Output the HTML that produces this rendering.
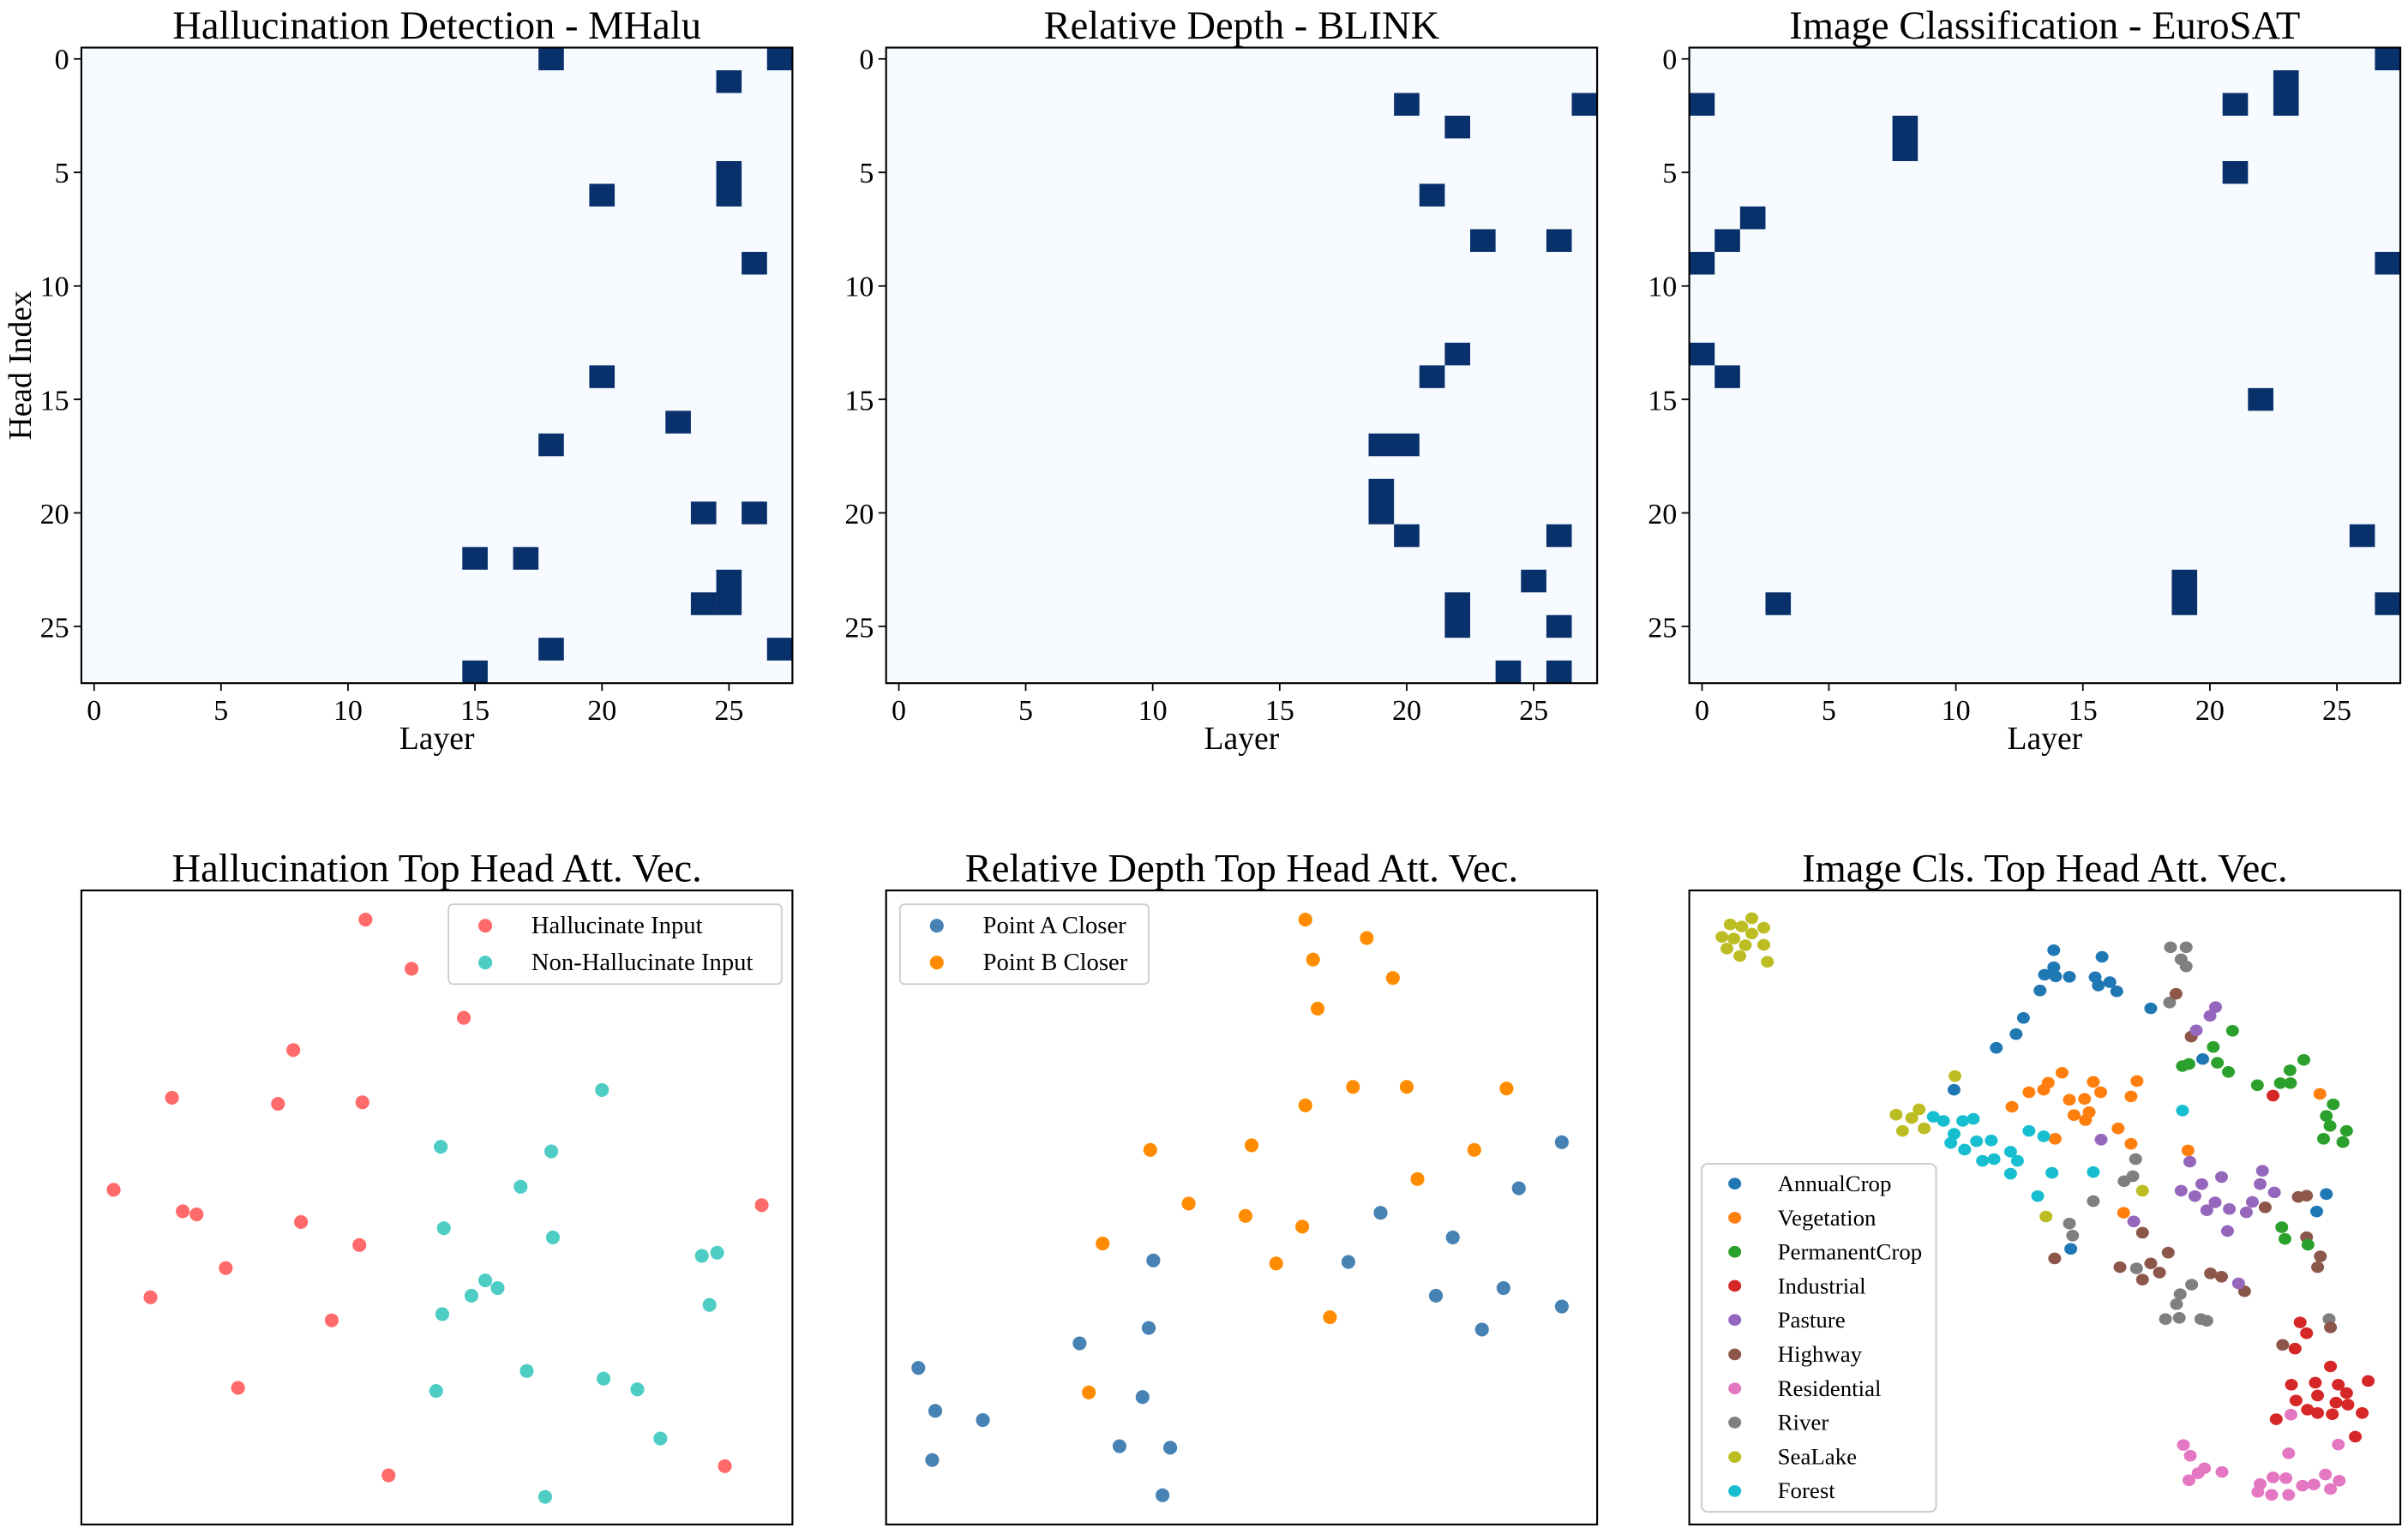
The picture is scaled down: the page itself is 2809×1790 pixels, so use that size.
<!DOCTYPE html>
<html><head><meta charset="utf-8"><style>
html,body{margin:0;padding:0;background:#fff;}
svg{display:block;font-family:"Liberation Serif",serif;}
</style></head><body>
<svg xmlns="http://www.w3.org/2000/svg" width="2809" height="1790" viewBox="0 0 1568 999.2" preserveAspectRatio="none">
<rect width="1568" height="1000" fill="#fff"/>
<rect x="53" y="31" width="463" height="414" fill="#f7fbff"/>
<g transform="translate(53,31) scale(16.536,14.786)" fill="#08306b">
<rect x="18" y="0" width="1" height="1"/><rect x="27" y="0" width="1" height="1"/><rect x="25" y="1" width="1" height="1"/><rect x="25" y="5" width="1" height="2"/><rect x="20" y="6" width="1" height="1"/><rect x="26" y="9" width="1" height="1"/><rect x="20" y="14" width="1" height="1"/><rect x="23" y="16" width="1" height="1"/><rect x="18" y="17" width="1" height="1"/><rect x="24" y="20" width="1" height="1"/><rect x="26" y="20" width="1" height="1"/><rect x="15" y="22" width="1" height="1"/><rect x="17" y="22" width="1" height="1"/><rect x="25" y="23" width="1" height="2"/><rect x="24" y="24" width="1" height="1"/><rect x="18" y="26" width="1" height="1"/><rect x="27" y="26" width="1" height="1"/><rect x="15" y="27" width="1" height="1"/>
</g>
<rect x="577" y="31" width="463" height="414" fill="#f7fbff"/>
<g transform="translate(577,31) scale(16.536,14.786)" fill="#08306b">
<rect x="20" y="2" width="1" height="1"/><rect x="27" y="2" width="1" height="1"/><rect x="22" y="3" width="1" height="1"/><rect x="21" y="6" width="1" height="1"/><rect x="23" y="8" width="1" height="1"/><rect x="26" y="8" width="1" height="1"/><rect x="22" y="13" width="1" height="1"/><rect x="21" y="14" width="1" height="1"/><rect x="19" y="17" width="2" height="1"/><rect x="19" y="19" width="1" height="2"/><rect x="20" y="21" width="1" height="1"/><rect x="26" y="21" width="1" height="1"/><rect x="25" y="23" width="1" height="1"/><rect x="22" y="24" width="1" height="2"/><rect x="26" y="25" width="1" height="1"/><rect x="24" y="27" width="1" height="1"/><rect x="26" y="27" width="1" height="1"/>
</g>
<rect x="1100" y="31" width="463" height="414" fill="#f7fbff"/>
<g transform="translate(1100,31) scale(16.536,14.786)" fill="#08306b">
<rect x="27" y="0" width="1" height="1"/><rect x="23" y="1" width="1" height="2"/><rect x="0" y="2" width="1" height="1"/><rect x="21" y="2" width="1" height="1"/><rect x="8" y="3" width="1" height="2"/><rect x="21" y="5" width="1" height="1"/><rect x="2" y="7" width="1" height="1"/><rect x="1" y="8" width="1" height="1"/><rect x="0" y="9" width="1" height="1"/><rect x="27" y="9" width="1" height="1"/><rect x="0" y="13" width="1" height="1"/><rect x="1" y="14" width="1" height="1"/><rect x="22" y="15" width="1" height="1"/><rect x="26" y="21" width="1" height="1"/><rect x="19" y="23" width="1" height="2"/><rect x="3" y="24" width="1" height="1"/><rect x="27" y="24" width="1" height="1"/>
</g>
<g fill="none" stroke="#000" stroke-width="1.2">
<rect x="53" y="31" width="463" height="414"/><rect x="577" y="31" width="463" height="414"/><rect x="1100" y="31" width="463" height="414"/>
<rect x="53" y="580" width="463" height="413"/><rect x="577" y="580" width="463" height="413"/><rect x="1100" y="580" width="463" height="413"/>
</g>
<g stroke="#000" stroke-width="1">
<path d="M61.3 445v5M143.9 445v5M226.6 445v5M309.3 445v5M392 445v5M474.7 445v5"/>
<path d="M585.3 445v5M667.9 445v5M750.6 445v5M833.3 445v5M916 445v5M998.7 445v5"/>
<path d="M1108.3 445v5M1190.9 445v5M1273.6 445v5M1356.3 445v5M1439 445v5M1521.7 445v5"/>
<path d="M53 38.4h-5M53 112.3h-5M53 186.3h-5M53 260.1h-5M53 334.1h-5M53 408h-5"/>
<path d="M577 38.4h-5M577 112.3h-5M577 186.3h-5M577 260.1h-5M577 334.1h-5M577 408h-5"/>
<path d="M1100 38.4h-5M1100 112.3h-5M1100 186.3h-5M1100 260.1h-5M1100 334.1h-5M1100 408h-5"/>
</g>
<g font-size="19" text-anchor="middle" fill="#000">
<text x="61.3" y="469">0</text><text x="143.9" y="469">5</text><text x="226.6" y="469">10</text><text x="309.3" y="469">15</text><text x="392" y="469">20</text><text x="474.7" y="469">25</text>
<text x="585.3" y="469">0</text><text x="667.9" y="469">5</text><text x="750.6" y="469">10</text><text x="833.3" y="469">15</text><text x="916" y="469">20</text><text x="998.7" y="469">25</text>
<text x="1108.3" y="469">0</text><text x="1190.9" y="469">5</text><text x="1273.6" y="469">10</text><text x="1356.3" y="469">15</text><text x="1439" y="469">20</text><text x="1521.7" y="469">25</text>
</g>
<g font-size="19" text-anchor="end" fill="#000">
<text x="45" y="45">0</text><text x="45" y="119">5</text><text x="45" y="193">10</text><text x="45" y="267">15</text><text x="45" y="341">20</text><text x="45" y="415">25</text>
<text x="569" y="45">0</text><text x="569" y="119">5</text><text x="569" y="193">10</text><text x="569" y="267">15</text><text x="569" y="341">20</text><text x="569" y="415">25</text>
<text x="1092" y="45">0</text><text x="1092" y="119">5</text><text x="1092" y="193">10</text><text x="1092" y="267">15</text><text x="1092" y="341">20</text><text x="1092" y="415">25</text>
</g>
<g font-size="21" text-anchor="middle" fill="#000">
<text x="284.5" y="488">Layer</text><text x="808.5" y="488">Layer</text><text x="1331.5" y="488">Layer</text>
<text transform="translate(20,238) rotate(-90)">Head Index</text>
</g>
<g font-size="26" text-anchor="middle" fill="#000">
<text x="284.5" y="25">Hallucination Detection - MHalu</text>
<text x="808.5" y="25">Relative Depth - BLINK</text>
<text x="1331.5" y="25">Image Classification - EuroSAT</text>
<text x="284.5" y="574">Hallucination Top Head Att. Vec.</text>
<text x="808.5" y="574">Relative Depth Top Head Att. Vec.</text>
<text x="1331.5" y="574">Image Cls. Top Head Att. Vec.</text>
</g>
<g fill="#ff6b6b">
<circle cx="238" cy="599" r="4.5"/><circle cx="268" cy="631" r="4.5"/><circle cx="302" cy="663" r="4.5"/><circle cx="191" cy="684" r="4.5"/><circle cx="112" cy="715" r="4.5"/><circle cx="181" cy="719" r="4.5"/><circle cx="236" cy="718" r="4.5"/><circle cx="74" cy="775" r="4.5"/><circle cx="119" cy="789" r="4.5"/><circle cx="128" cy="791" r="4.5"/><circle cx="196" cy="796" r="4.5"/><circle cx="234" cy="811" r="4.5"/><circle cx="147" cy="826" r="4.5"/><circle cx="98" cy="845" r="4.5"/><circle cx="216" cy="860" r="4.5"/><circle cx="155" cy="904" r="4.5"/><circle cx="253" cy="961" r="4.5"/><circle cx="496" cy="785" r="4.5"/><circle cx="472" cy="955" r="4.5"/>
</g>
<g fill="#4ecdc4">
<circle cx="392" cy="710" r="4.5"/><circle cx="287" cy="747" r="4.5"/><circle cx="359" cy="750" r="4.5"/><circle cx="339" cy="773" r="4.5"/><circle cx="289" cy="800" r="4.5"/><circle cx="360" cy="806" r="4.5"/><circle cx="316" cy="834" r="4.5"/><circle cx="324" cy="839" r="4.5"/><circle cx="307" cy="844" r="4.5"/><circle cx="288" cy="856" r="4.5"/><circle cx="467" cy="816" r="4.5"/><circle cx="457" cy="818" r="4.5"/><circle cx="462" cy="850" r="4.5"/><circle cx="343" cy="893" r="4.5"/><circle cx="393" cy="898" r="4.5"/><circle cx="415" cy="905" r="4.5"/><circle cx="284" cy="906" r="4.5"/><circle cx="430" cy="937" r="4.5"/><circle cx="355" cy="975" r="4.5"/>
</g>
<rect x="292" y="589" width="217" height="52" rx="3" fill="#fff" fill-opacity="0.8" stroke="#ccc" stroke-width="1"/>
<circle cx="316" cy="603" r="4.5" fill="#ff6b6b"/><circle cx="316" cy="627" r="4.5" fill="#4ecdc4"/>
<g font-size="16" fill="#000"><text x="346" y="608">Hallucinate Input</text><text x="346" y="632">Non-Hallucinate Input</text></g>
<g fill="#ff8c00">
<circle cx="850" cy="599" r="4.5"/><circle cx="890" cy="611" r="4.5"/><circle cx="855" cy="625" r="4.5"/><circle cx="907" cy="637" r="4.5"/><circle cx="858" cy="657" r="4.5"/><circle cx="850" cy="720" r="4.5"/><circle cx="881" cy="708" r="4.5"/><circle cx="916" cy="708" r="4.5"/><circle cx="981" cy="709" r="4.5"/><circle cx="749" cy="749" r="4.5"/><circle cx="815" cy="746" r="4.5"/><circle cx="960" cy="749" r="4.5"/><circle cx="923" cy="768" r="4.5"/><circle cx="774" cy="784" r="4.5"/><circle cx="811" cy="792" r="4.5"/><circle cx="848" cy="799" r="4.5"/><circle cx="718" cy="810" r="4.5"/><circle cx="831" cy="823" r="4.5"/><circle cx="866" cy="858" r="4.5"/><circle cx="709" cy="907" r="4.5"/>
</g>
<g fill="#4682b4">
<circle cx="1017" cy="744" r="4.5"/><circle cx="989" cy="774" r="4.5"/><circle cx="899" cy="790" r="4.5"/><circle cx="946" cy="806" r="4.5"/><circle cx="751" cy="821" r="4.5"/><circle cx="878" cy="822" r="4.5"/><circle cx="979" cy="839" r="4.5"/><circle cx="935" cy="844" r="4.5"/><circle cx="1017" cy="851" r="4.5"/><circle cx="748" cy="865" r="4.5"/><circle cx="965" cy="866" r="4.5"/><circle cx="703" cy="875" r="4.5"/><circle cx="598" cy="891" r="4.5"/><circle cx="609" cy="919" r="4.5"/><circle cx="640" cy="925" r="4.5"/><circle cx="744" cy="910" r="4.5"/><circle cx="729" cy="942" r="4.5"/><circle cx="762" cy="943" r="4.5"/><circle cx="607" cy="951" r="4.5"/><circle cx="757" cy="974" r="4.5"/>
</g>
<rect x="586" y="589" width="162" height="52" rx="3" fill="#fff" fill-opacity="0.8" stroke="#ccc" stroke-width="1"/>
<circle cx="610" cy="603" r="4.5" fill="#4682b4"/><circle cx="610" cy="627" r="4.5" fill="#ff8c00"/>
<g font-size="16" fill="#000"><text x="640" y="608">Point A Closer</text><text x="640" y="632">Point B Closer</text></g>
<g transform="translate(1099.1,574.0) scale(0.2993,0.2706)">
<g fill="#bcbd22"><circle cx="92" cy="104" r="14"/><circle cx="117" cy="109" r="14"/><circle cx="139" cy="89" r="14"/><circle cx="165" cy="112" r="14"/><circle cx="74" cy="134" r="14"/><circle cx="100" cy="138" r="14"/><circle cx="139" cy="126" r="14"/><circle cx="85" cy="162" r="14"/><circle cx="125" cy="154" r="14"/><circle cx="165" cy="153" r="14"/><circle cx="113" cy="180" r="14"/><circle cx="173" cy="194" r="14"/><circle cx="581" cy="469" r="14"/><circle cx="453" cy="562" r="14"/><circle cx="503" cy="549" r="14"/><circle cx="487" cy="570" r="14"/><circle cx="467" cy="601" r="14"/><circle cx="514" cy="595" r="14"/><circle cx="989" cy="745" r="14"/><circle cx="779" cy="807" r="14"/></g>
<g fill="#1f77b4"><circle cx="796" cy="166" r="14"/><circle cx="901" cy="182" r="14"/><circle cx="796" cy="207" r="14"/><circle cx="776" cy="225" r="14"/><circle cx="800" cy="229" r="14"/><circle cx="830" cy="230" r="14"/><circle cx="886" cy="231" r="14"/><circle cx="893" cy="251" r="14"/><circle cx="918" cy="243" r="14"/><circle cx="933" cy="265" r="14"/><circle cx="766" cy="263" r="14"/><circle cx="730" cy="329" r="14"/><circle cx="714" cy="368" r="14"/><circle cx="671" cy="401" r="14"/><circle cx="1007" cy="306" r="14"/><circle cx="1120" cy="428" r="14"/><circle cx="579" cy="502" r="14"/><circle cx="1389" cy="753" r="14"/><circle cx="1368" cy="795" r="14"/><circle cx="833" cy="885" r="14"/></g>
<g fill="#7f7f7f"><circle cx="1050" cy="159" r="14"/><circle cx="1084" cy="159" r="14"/><circle cx="1073" cy="188" r="14"/><circle cx="1084" cy="205" r="14"/><circle cx="1048" cy="292" r="14"/><circle cx="974" cy="669" r="14"/><circle cx="968" cy="710" r="14"/><circle cx="949" cy="722" r="14"/><circle cx="882" cy="770" r="14"/><circle cx="830" cy="824" r="14"/><circle cx="837" cy="853" r="14"/><circle cx="976" cy="932" r="14"/><circle cx="1096" cy="971" r="14"/><circle cx="1071" cy="994" r="14"/><circle cx="1063" cy="1018" r="14"/><circle cx="1039" cy="1054" r="14"/><circle cx="1069" cy="1051" r="14"/><circle cx="1116" cy="1054" r="14"/><circle cx="1129" cy="1058" r="14"/><circle cx="1395" cy="1054" r="14"/></g>
<g fill="#8c564b"><circle cx="1062" cy="271" r="14"/><circle cx="1095" cy="374" r="14"/><circle cx="798" cy="908" r="14"/><circle cx="989" cy="846" r="14"/><circle cx="1045" cy="894" r="14"/><circle cx="940" cy="929" r="14"/><circle cx="1007" cy="920" r="14"/><circle cx="1026" cy="942" r="14"/><circle cx="989" cy="959" r="14"/><circle cx="1137" cy="944" r="14"/><circle cx="1161" cy="952" r="14"/><circle cx="1211" cy="987" r="14"/><circle cx="1256" cy="785" r="14"/><circle cx="1328" cy="760" r="14"/><circle cx="1346" cy="757" r="14"/><circle cx="1346" cy="857" r="14"/><circle cx="1376" cy="903" r="14"/><circle cx="1370" cy="929" r="14"/><circle cx="1294" cy="1116" r="14"/><circle cx="1398" cy="1074" r="14"/></g>
<g fill="#9467bd"><circle cx="1148" cy="303" r="14"/><circle cx="1136" cy="324" r="14"/><circle cx="1106" cy="359" r="14"/><circle cx="899" cy="622" r="14"/><circle cx="1092" cy="675" r="14"/><circle cx="1161" cy="712" r="14"/><circle cx="1118" cy="729" r="14"/><circle cx="1250" cy="697" r="14"/><circle cx="1245" cy="729" r="14"/><circle cx="1276" cy="749" r="14"/><circle cx="1073" cy="745" r="14"/><circle cx="1103" cy="758" r="14"/><circle cx="1147" cy="773" r="14"/><circle cx="1178" cy="789" r="14"/><circle cx="1129" cy="792" r="14"/><circle cx="1228" cy="772" r="14"/><circle cx="1215" cy="797" r="14"/><circle cx="1174" cy="842" r="14"/><circle cx="970" cy="819" r="14"/><circle cx="1198" cy="968" r="14"/></g>
<g fill="#2ca02c"><circle cx="1185" cy="360" r="14"/><circle cx="1143" cy="399" r="14"/><circle cx="1076" cy="445" r="14"/><circle cx="1090" cy="440" r="14"/><circle cx="1152" cy="437" r="14"/><circle cx="1176" cy="459" r="14"/><circle cx="1239" cy="491" r="14"/><circle cx="1310" cy="455" r="14"/><circle cx="1340" cy="430" r="14"/><circle cx="1289" cy="486" r="14"/><circle cx="1311" cy="486" r="14"/><circle cx="1404" cy="537" r="14"/><circle cx="1389" cy="565" r="14"/><circle cx="1397" cy="589" r="14"/><circle cx="1433" cy="601" r="14"/><circle cx="1383" cy="620" r="14"/><circle cx="1425" cy="628" r="14"/><circle cx="1292" cy="833" r="14"/><circle cx="1299" cy="861" r="14"/><circle cx="1349" cy="875" r="14"/></g>
<g fill="#ff7f0e"><circle cx="814" cy="461" r="14"/><circle cx="784" cy="485" r="14"/><circle cx="774" cy="502" r="14"/><circle cx="742" cy="508" r="14"/><circle cx="705" cy="543" r="14"/><circle cx="882" cy="483" r="14"/><circle cx="898" cy="508" r="14"/><circle cx="977" cy="481" r="14"/><circle cx="964" cy="518" r="14"/><circle cx="830" cy="526" r="14"/><circle cx="863" cy="524" r="14"/><circle cx="873" cy="556" r="14"/><circle cx="840" cy="563" r="14"/><circle cx="865" cy="575" r="14"/><circle cx="936" cy="595" r="14"/><circle cx="964" cy="632" r="14"/><circle cx="799" cy="620" r="14"/><circle cx="1088" cy="648" r="14"/><circle cx="948" cy="798" r="14"/><circle cx="1375" cy="512" r="14"/></g>
<g fill="#d62728"><circle cx="1273" cy="516" r="14"/><circle cx="1332" cy="1062" r="14"/><circle cx="1346" cy="1088" r="14"/><circle cx="1321" cy="1125" r="14"/><circle cx="1398" cy="1168" r="14"/><circle cx="1313" cy="1212" r="14"/><circle cx="1365" cy="1207" r="14"/><circle cx="1415" cy="1212" r="14"/><circle cx="1433" cy="1232" r="14"/><circle cx="1480" cy="1203" r="14"/><circle cx="1370" cy="1238" r="14"/><circle cx="1323" cy="1250" r="14"/><circle cx="1410" cy="1255" r="14"/><circle cx="1436" cy="1260" r="14"/><circle cx="1348" cy="1272" r="14"/><circle cx="1370" cy="1280" r="14"/><circle cx="1402" cy="1283" r="14"/><circle cx="1467" cy="1280" r="14"/><circle cx="1280" cy="1295" r="14"/><circle cx="1452" cy="1337" r="14"/></g>
<g fill="#e377c2"><circle cx="1312" cy="1284" r="14"/><circle cx="1078" cy="1357" r="14"/><circle cx="1093" cy="1383" r="14"/><circle cx="1124" cy="1413" r="14"/><circle cx="1110" cy="1425" r="14"/><circle cx="1162" cy="1422" r="14"/><circle cx="1090" cy="1442" r="14"/><circle cx="1307" cy="1377" r="14"/><circle cx="1415" cy="1356" r="14"/><circle cx="1245" cy="1451" r="14"/><circle cx="1273" cy="1435" r="14"/><circle cx="1301" cy="1437" r="14"/><circle cx="1387" cy="1428" r="14"/><circle cx="1417" cy="1443" r="14"/><circle cx="1240" cy="1470" r="14"/><circle cx="1270" cy="1477" r="14"/><circle cx="1307" cy="1477" r="14"/><circle cx="1337" cy="1455" r="14"/><circle cx="1362" cy="1452" r="14"/><circle cx="1398" cy="1463" r="14"/></g>
<g fill="#17becf"><circle cx="534" cy="567" r="14"/><circle cx="556" cy="577" r="14"/><circle cx="598" cy="577" r="14"/><circle cx="621" cy="572" r="14"/><circle cx="579" cy="608" r="14"/><circle cx="572" cy="630" r="14"/><circle cx="602" cy="646" r="14"/><circle cx="628" cy="626" r="14"/><circle cx="660" cy="624" r="14"/><circle cx="742" cy="601" r="14"/><circle cx="774" cy="614" r="14"/><circle cx="641" cy="673" r="14"/><circle cx="666" cy="669" r="14"/><circle cx="702" cy="651" r="14"/><circle cx="717" cy="673" r="14"/><circle cx="702" cy="704" r="14"/><circle cx="792" cy="702" r="14"/><circle cx="882" cy="700" r="14"/><circle cx="761" cy="758" r="14"/><circle cx="1076" cy="552" r="14"/></g>
<rect x="30" y="680" width="510" height="838" rx="14" fill="#fff" fill-opacity="0.8" stroke="#ccc" stroke-width="4"/>
<circle cx="102" cy="728" r="14" fill="#1f77b4"/><circle cx="102" cy="810" r="14" fill="#ff7f0e"/><circle cx="102" cy="892" r="14" fill="#2ca02c"/><circle cx="102" cy="974" r="14" fill="#d62728"/><circle cx="102" cy="1056" r="14" fill="#9467bd"/><circle cx="102" cy="1139" r="14" fill="#8c564b"/><circle cx="102" cy="1221" r="14" fill="#e377c2"/><circle cx="102" cy="1303" r="14" fill="#7f7f7f"/><circle cx="102" cy="1386" r="14" fill="#bcbd22"/><circle cx="102" cy="1468" r="14" fill="#17becf"/>
</g>
<g font-size="15" fill="#000"><text x="1157.5" y="776">AnnualCrop</text><text x="1157.5" y="798.2">Vegetation</text><text x="1157.5" y="820.4">PermanentCrop</text><text x="1157.5" y="842.6">Industrial</text><text x="1157.5" y="864.8">Pasture</text><text x="1157.5" y="887">Highway</text><text x="1157.5" y="909.2">Residential</text><text x="1157.5" y="931.4">River</text><text x="1157.5" y="953.6">SeaLake</text><text x="1157.5" y="975.8">Forest</text></g>
</svg>
</body></html>
